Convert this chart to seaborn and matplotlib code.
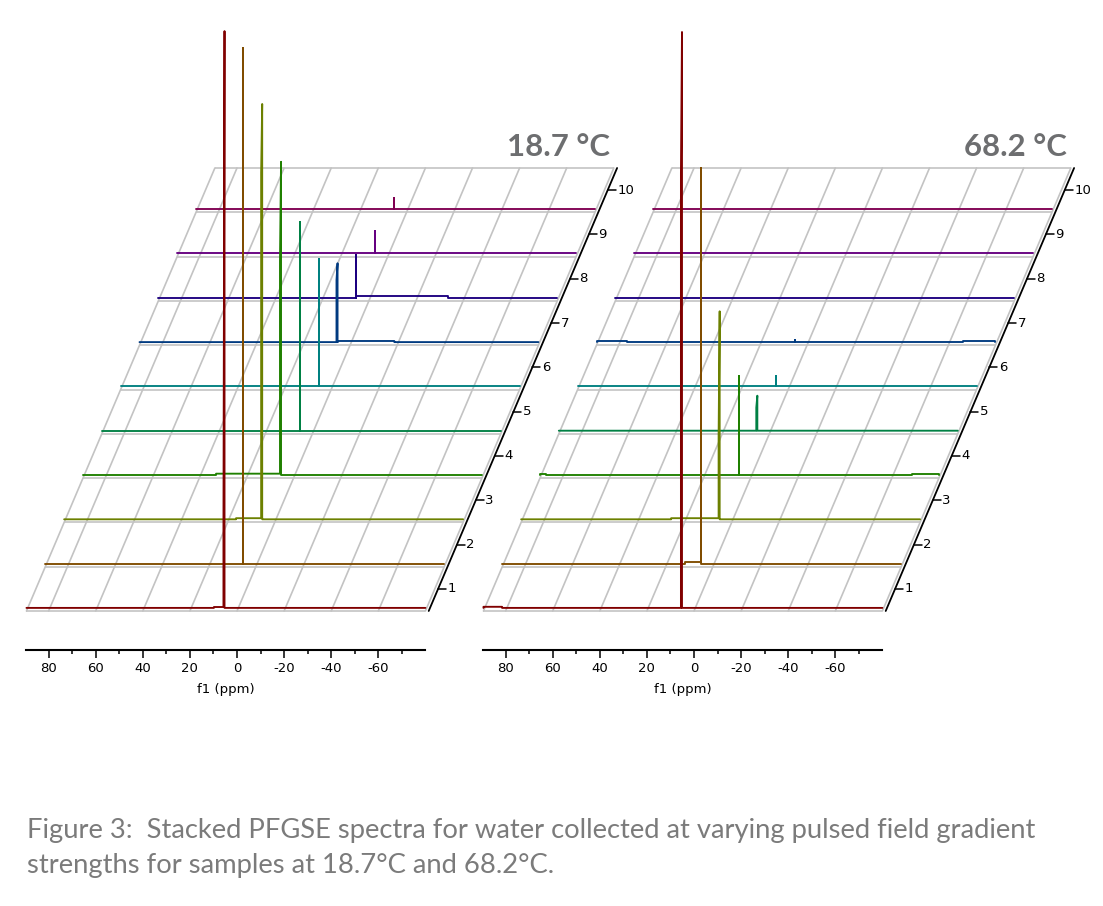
import pandas as pd
import seaborn as sns
import matplotlib.pyplot as plt
from matplotlib.ticker import FixedLocator, FuncFormatter
from matplotlib.transforms import blended_transform_factory

# --- data --------------------------------------------------------------
TITLES = ["18.7 °C", "68.2 °C"]
TRACE_LABELS = [str(k) for k in range(1, 11)]
TRACE_COLORS = ["#800000", "#804c00", "#6c8000", "#1f8000", "#008044",
                "#008080", "#003a80", "#1c0080", "#660080", "#800052"]

# water peak position (ppm), height and shoulder (in units of stack spacing)
LOW_PEAK_PPM = 5.3
LOW_PEAK_HEIGHT = [13.0, 11.65, 9.35, 7.04, 4.72, 2.87, 1.78, 0.97, 0.50, 0.25]
LOW_SHOULDER = [1.8, 0.0, 7.8, 4.8, 0.0, 0.0, 1.4, 0.0, 0.0, 0.0]
# small baseline offsets: (trace, ppm from, ppm to, height)
LOW_STEPS = [(1, 9.8, 5.3, 0.02), (3, 16.4, 5.3, 0.025), (4, 32.9, 5.3, 0.03),
             (7, 5.3, -18.8, 0.025), (8, 5.3, -33.7, 0.03)]

HIGH_PEAK_PPM = 5.1
HIGH_PEAK_HEIGHT = [13.0, 8.9, 4.67, 2.23, 0.79, 0.23, 0.05, 0.0, 0.0, 0.0]
HIGH_SHOULDER = [9.8, 0.0, 1.85, 0.0, 0.52, 0.0, 0.0, 0.0, 0.0, 0.0]
HIGH_STEPS = [(1, 89.4, 81.5, 0.025), (2, 11.8, 5.1, 0.025), (3, 25.7, 5.1, 0.025),
              (4, 89.4, 87.0, 0.025), (4, -68.6, -80.0, 0.025),
              (7, 89.4, 76.5, 0.025), (7, -66.3, -80.0, 0.025)]

MAJOR_PPM = [80, 60, 40, 20, 0, -20, -40, -60]
MINOR_PPM = [70, 50, 30, 10, -10, -30, -50, -70]
GRID_PPM = [80, 60, 40, 20, 0, -20, -40, -60]

CAPTION = ["Figure 3:  Stacked PFGSE spectra for water collected at varying pulsed field gradient",
           "strengths for samples at 18.7°C and 68.2°C."]

# --- geometry of the stacked (oblique) view ------------------------------
W, H = 1103, 906
PX_PER_PPM = 2.355
PX_PER_LEVEL = 44.3
SHIFT = 8.0          # horizontal shift per trace, ppm units
LIFT = 0.07          # traces sit slightly above their grid row
PPM_LEFT, PPM_RIGHT = 89.4, -80.0
AXIS_GAP = 1.4
PEAK_DW = 0.45
XLIM = (-95, 170)
YLIM = (-0.88, 13.6)
ORIGINS = [(237, 611), (694, 611)]   # pixel position of 0 ppm, row 0
GRID_COLOR = "#c3c3c3"

sns.set_theme(style="white")
plt.rcParams["font.family"] = ["DejaVu Sans"]


def build_trace(peak_ppm, peak_h, shoulder_h, steps):
    events = []
    for _, a, b, h in steps:
        events.append((a, 1, h))
        events.append((b, 1, -h))
    if peak_h > 0:
        events.append((peak_ppm, 0, None))
    events.sort(key=lambda e: (-e[0], e[1]))
    level = 0.0
    pts = [(PPM_LEFT, 0.0)]
    for ppm, kind, h in events:
        if kind == 0:
            if shoulder_h > 0:
                pts += [(ppm + PEAK_DW, level), (ppm + PEAK_DW, level + shoulder_h)]
            else:
                pts += [(ppm, level)]
            pts += [(ppm, level + peak_h), (ppm, level)]
        else:
            pts.append((ppm, level))
            level += h
            pts.append((ppm, level))
    pts.append((PPM_RIGHT, level))
    return pts


fig = plt.figure(figsize=(W / 100, H / 100), dpi=100)

panels = [
    (LOW_PEAK_PPM, LOW_PEAK_HEIGHT, LOW_SHOULDER, LOW_STEPS),
    (HIGH_PEAK_PPM, HIGH_PEAK_HEIGHT, HIGH_SHOULDER, HIGH_STEPS),
]
palette = dict(zip(TRACE_LABELS, TRACE_COLORS))

for (ox, oy), title, (p_ppm, heights, shoulders, steps) in zip(ORIGINS, TITLES, panels):
    x0 = ox + PX_PER_PPM * XLIM[0]
    wpx = PX_PER_PPM * (XLIM[1] - XLIM[0])
    ybot = oy - PX_PER_LEVEL * YLIM[0]
    ytop = oy - PX_PER_LEVEL * YLIM[1]
    ax = fig.add_axes([x0 / W, 1 - ybot / H, wpx / W, (ybot - ytop) / H])

    # grid of the stack
    for d in range(11):
        ax.plot([-PPM_LEFT + SHIFT * d, -PPM_RIGHT + SHIFT * d], [d, d],
                color=GRID_COLOR, lw=1.2, zorder=1, solid_capstyle="butt")
    for p in [PPM_LEFT] + GRID_PPM + [PPM_RIGHT]:
        ax.plot([-p, -p + SHIFT * 10], [0, 10], color=GRID_COLOR, lw=1.2, zorder=1)

    rows = []
    for i in range(10):
        tr_steps = [s for s in steps if s[0] == i + 1]
        for ppm, lvl in build_trace(p_ppm, heights[i], shoulders[i], tr_steps):
            rows.append({"x": -ppm + SHIFT * i, "y": i + LIFT + lvl, "trace": TRACE_LABELS[i]})
    df = pd.DataFrame(rows)

    sns.lineplot(data=df, x="x", y="y", hue="trace", hue_order=TRACE_LABELS[::-1],
                 palette=palette, estimator=None, sort=False, legend=False,
                 linewidth=1.35, zorder=3, clip_on=False, ax=ax)

    # depth axis
    xa0 = -PPM_RIGHT + AXIS_GAP
    ax.plot([xa0, xa0 + SHIFT * 10], [0, 10], color="black", lw=1.3, zorder=2)
    for k in range(1, 11):
        v = k - 0.5
        xa = xa0 + SHIFT * v
        ax.plot([xa, xa + 3.4], [v, v], color="black", lw=1.1, zorder=2)
        ax.text(xa + 4.0, v, str(k), ha="left", va="center", fontsize=9.5, color="black")

    ax.set_xlim(*XLIM)
    ax.set_ylim(*YLIM)
    for side in ["top", "left", "right"]:
        ax.spines[side].set_visible(False)
    ax.spines["bottom"].set_bounds(-PPM_LEFT, -PPM_RIGHT)
    ax.spines["bottom"].set_linewidth(1.5)
    ax.spines["bottom"].set_color("black")
    ax.set_yticks([])
    ax.xaxis.set_major_locator(FixedLocator([-p for p in MAJOR_PPM]))
    ax.xaxis.set_minor_locator(FixedLocator([-p for p in MINOR_PPM]))
    ax.xaxis.set_major_formatter(FuncFormatter(lambda u, pos: str(int(round(-u)))))
    ax.tick_params(axis="x", which="major", bottom=True, direction="out", length=5.8,
                   width=1.1, pad=3.0, labelsize=9.5, color="black", labelcolor="black")
    ax.tick_params(axis="x", which="minor", bottom=True, direction="out", length=3.0,
                   width=1.1, color="black")
    ax.set_ylabel("")
    ax.set_xlabel("f1 (ppm)", fontsize=9.5, color="black")
    ax.xaxis.label.set_va("center")
    ax.xaxis.set_label_coords((-PPM_LEFT - PPM_RIGHT) / 2, -40 / (ybot - ytop),
                              transform=blended_transform_factory(ax.transData, ax.transAxes))
    ax.patch.set_visible(False)

    t = fig.text((ox + 373) / W, 1 - 156 / H, title, ha="right", va="baseline",
                 fontsize=20, fontweight="bold", color="#6d6e70", family=["Lato", "DejaVu Sans"])
    r = fig.canvas.get_renderer()
    t.set_fontsize(20 * 103 / t.get_window_extent(renderer=r).width)

cap1 = fig.text(27 / W, 1 - 838 / H, CAPTION[0], ha="left", va="baseline",
                fontsize=15, color="#7b7b7b", family=["Lato", "DejaVu Sans"])
r = fig.canvas.get_renderer()
size = 15 * 1012 / cap1.get_window_extent(renderer=r).width
cap1.set_fontsize(size)
fig.text(27 / W, 1 - 873 / H, CAPTION[1], ha="left", va="baseline",
         fontsize=size, color="#7b7b7b", family=["Lato", "DejaVu Sans"])

fig.savefig("out.png", dpi=100)
